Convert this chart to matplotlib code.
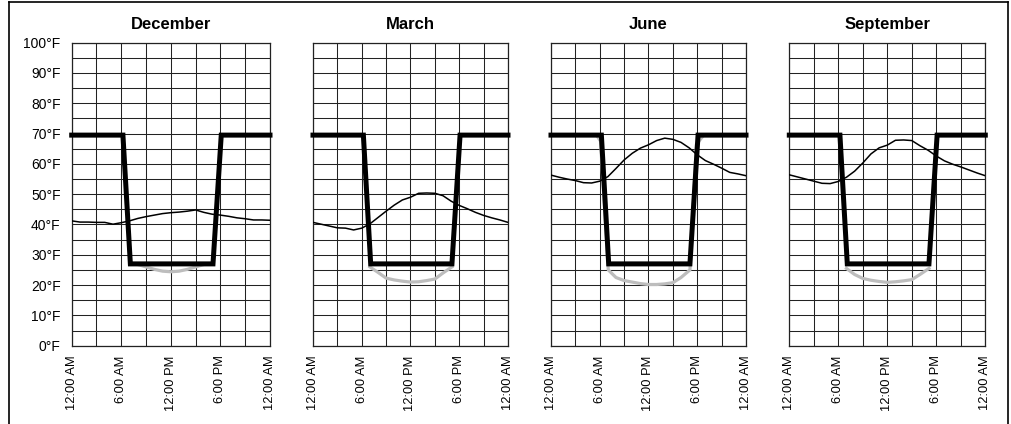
import matplotlib
matplotlib.use("Agg")
import matplotlib.pyplot as plt
from matplotlib.lines import Line2D
from matplotlib import font_manager

# ---------------- data ----------------
months = ["December", "March", "June", "September"]
hours = list(range(25))

outdoor_dec = [41.2, 40.8, 40.8, 40.7, 40.7, 40.1, 40.6, 41.2, 42.0, 42.6, 43.1, 43.6, 43.9,
               44.1, 44.4, 44.8, 44.0, 43.4, 43.1, 42.7, 42.2, 41.9, 41.5, 41.5, 41.4]
outdoor_mar = [40.7, 40.1, 39.5, 38.9, 38.8, 38.2, 38.8, 40.2, 42.3, 44.4, 46.4, 48.1, 49.0,
               50.3, 50.4, 50.3, 49.5, 47.7, 46.3, 45.2, 44.0, 43.0, 42.2, 41.5, 40.7]
outdoor_jun = [56.3, 55.6, 55.0, 54.5, 53.8, 53.7, 54.3, 55.8, 58.5, 61.3, 63.5, 65.2, 66.3,
               67.7, 68.5, 68.1, 67.1, 65.3, 63.0, 61.1, 59.9, 58.6, 57.2, 56.7, 56.1]
outdoor_sep = [56.4, 55.7, 55.0, 54.3, 53.6, 53.5, 54.2, 55.6, 57.6, 60.3, 63.3, 65.3, 66.2,
               67.8, 67.9, 67.7, 66.0, 64.5, 62.6, 61.0, 59.9, 59.0, 58.0, 57.0, 56.1]

setpoint_hours = [0, 6.2, 7.1, 17.1, 18.1, 24]
setpoint_temps = [69.5, 69.5, 27, 27, 69.5, 69.5]

gray_dec_hours = [7.1, 8, 9, 10, 11, 12, 13, 14, 15, 16, 17.1]
gray_dec_temps = [27, 26.8, 26.0, 25.2, 24.6, 24.4, 24.6, 25.2, 26.0, 26.8, 27]
gray_mar_hours = [7.0, 8, 9, 10, 11, 12, 13, 14, 15, 16, 17.1]
gray_mar_temps = [26, 24.2, 22.3, 21.7, 21.3, 21.0, 21.1, 21.5, 22.0, 24.0, 26]
gray_jun_hours = [0, 5.6, 6.1, 7.05, 8, 9, 10, 11, 12, 13, 14, 15, 16, 17.1, 17.9, 18.8, 24]
gray_jun_temps = [69.5, 69.5, 67.5, 25, 22.5, 21.5, 21.0, 20.5, 20.2, 20.2, 20.4, 20.8, 22.5,
                  25, 66.5, 69.5, 69.5]
gray_sep_hours = [7.0, 8, 9, 10, 11, 12, 13, 14, 15, 16, 17.1]
gray_sep_temps = [25.5, 23.5, 22.2, 21.6, 21.2, 20.9, 21.1, 21.4, 21.8, 23.5, 25.5]

y_ticks = list(range(0, 101, 10))
y_labels = [f"{t}°F" for t in y_ticks]
x_ticks = [0, 6, 12, 18, 24]
x_labels = ["12:00 AM", "6:00 AM", "12:00 PM", "6:00 PM", "12:00 AM"]

outdoor = [outdoor_dec, outdoor_mar, outdoor_jun, outdoor_sep]
gray_h = [gray_dec_hours, gray_mar_hours, gray_jun_hours, gray_sep_hours]
gray_t = [gray_dec_temps, gray_mar_temps, gray_jun_temps, gray_sep_temps]

# ---------------- fonts ----------------
plt.rcParams["font.family"] = ["Liberation Sans", "DejaVu Sans"]

W, H = 1012, 424
fig = plt.figure(figsize=(W / 100, H / 100), dpi=100)

lefts = [71.7, 313.0, 551.0, 789.3]
widths = [198.3, 195.0, 195.0, 196.0]
top_px, bot_px = 42.7, 345.7

for i, m in enumerate(months):
    ax = fig.add_axes([lefts[i] / W, 1 - bot_px / H, widths[i] / W, (bot_px - top_px) / H])
    ax.set_xlim(0, 24)
    ax.set_ylim(0, 100)
    ax.set_xticks(x_ticks)
    ax.set_xticks([3, 9, 15, 21], minor=True)
    ax.set_yticks(y_ticks)
    ax.set_yticks(list(range(5, 100, 10)), minor=True)
    ax.set_xticklabels(x_labels, rotation=90, fontsize=9.3)
    if i == 0:
        ax.set_yticklabels(y_labels, fontsize=10)
    else:
        ax.set_yticklabels([])
    ax.tick_params(which="both", length=0)
    ax.tick_params(axis="x", pad=7)
    ax.tick_params(axis="y", pad=8)
    ax.grid(which="both", color="#222222", linewidth=0.75)
    ax.set_axisbelow(True)
    for s in ax.spines.values():
        s.set_color("#222222")
        s.set_linewidth(0.9)

    ax.plot(gray_h[i], gray_t[i], color="#bdbdbd", linewidth=2.3, zorder=3,
            solid_joinstyle="round")
    ax.plot(hours, outdoor[i], color="black", linewidth=1.1, zorder=4)
    ax.plot(setpoint_hours, setpoint_temps, color="black", linewidth=3.6, zorder=5,
            solid_capstyle="projecting", solid_joinstyle="miter", clip_on=False)
    ax.set_title(m, fontsize=12, fontweight="bold", pad=10)

# figure frame (left, top, right)
lw = 1.2
fig.add_artist(Line2D([9 / W, 9 / W], [0, 1 - 1.5 / H], color="black", linewidth=lw))
fig.add_artist(Line2D([9 / W, 1008 / W], [1 - 1.5 / H, 1 - 1.5 / H], color="black", linewidth=lw))
fig.add_artist(Line2D([1008 / W, 1008 / W], [0, 1 - 1.5 / H], color="black", linewidth=lw))

fig.savefig("out.png", dpi=100)
